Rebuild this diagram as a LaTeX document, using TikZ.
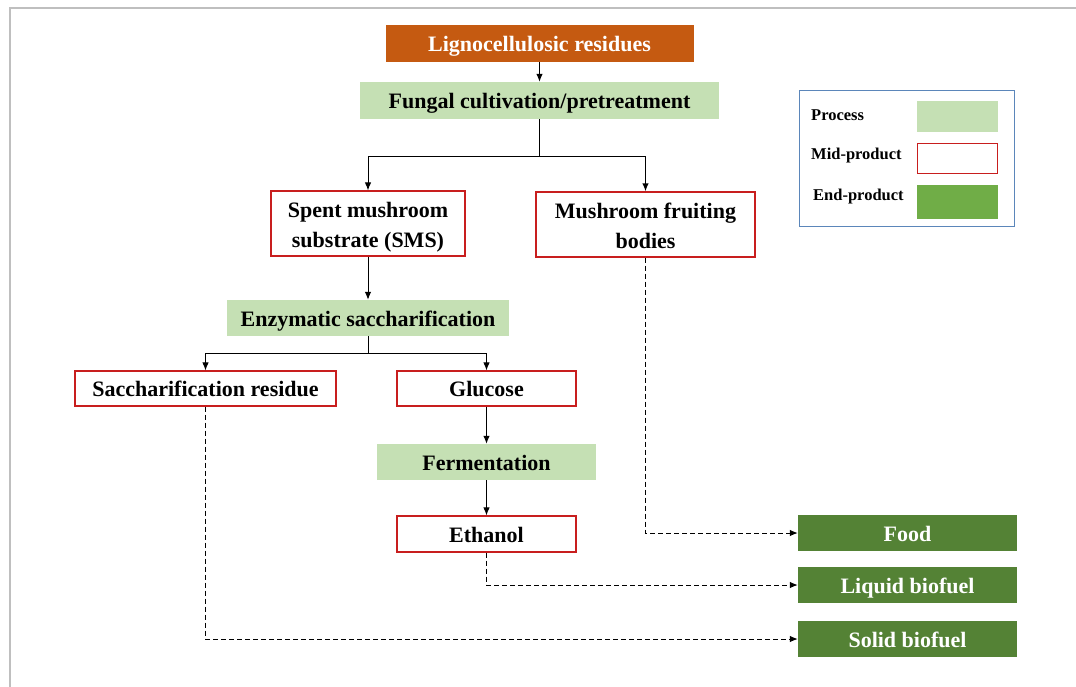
\documentclass[tikz,border=0pt]{standalone}
\usepackage{fontspec}
\setmainfont{Liberation Serif}
\usetikzlibrary{arrows.meta,positioning,calc}

\definecolor{rust}{HTML}{C55A11}
\definecolor{procgreen}{HTML}{C5E0B4}
\definecolor{endgreen}{HTML}{548235}
\definecolor{keygreen}{HTML}{70AD47}
\definecolor{midred}{HTML}{C81E1E}
\definecolor{legblue}{HTML}{5B86BA}
\definecolor{framegray}{HTML}{BFBFBF}

\begin{document}
\begin{tikzpicture}[
        x = 1pt, y = -1pt,
        font = \bfseries\fontsize{22}{30}\selectfont,
        oneline/.style = {text height=20pt, text depth=4pt},
        twoline/.style = {text height=50pt, text depth=3pt},
        topblock/.style = {rectangle, oneline, fill=rust, text=white, inner sep=0pt, minimum height=37pt},
        process/.style = {rectangle, oneline, fill=procgreen, inner sep=0pt, minimum height=36pt},
        midblock/.style = {rectangle, draw=midred, line width=1.2pt, fill=white, inner sep=0pt, align=center},
        endblock/.style = {rectangle, oneline, fill=endgreen, text=white, inner sep=0pt, minimum width=219pt, minimum height=36pt},
        keytext/.style = {anchor=west, inner sep=0pt, font=\bfseries\fontsize{16.5}{18}\selectfont},
        line/.style = {draw, line width=1pt, -{Latex[length=8pt,width=6.5pt]}},
        dline/.style = {draw, line width=1pt, dash pattern=on 5pt off 3pt, -{Latex[length=8pt,width=6.5pt]}}
    ]
        \useasboundingbox (0,0) rectangle (1076,686);
        \draw [framegray, line width=2pt] (1100,8) -- (9.5,8) -- (9.5,700);

        % Place nodes
        \node [topblock, minimum width=308pt] at (539.5,43.5) (ligno) {Lignocellulosic residues};
        \node [process, minimum width=359pt, minimum height=37pt] at (539.5,100.5) (fungal) {Fungal cultivation/pretreatment};
        \node [midblock, twoline, minimum width=194pt, minimum height=65pt] at (368,223.5) (sms) {Spent mushroom\\substrate (SMS)};
        \node [midblock, twoline, minimum width=219pt, minimum height=65pt] at (645.5,224.5) (fruit) {Mushroom fruiting\\bodies};
        \node [process, minimum width=282pt] at (368,318) (enzyme) {Enzymatic saccharification};
        \node [midblock, oneline, minimum width=261pt, minimum height=35pt] at (205.5,388.5) (residue) {Saccharification residue};
        \node [midblock, oneline, minimum width=179pt, minimum height=35pt] at (486.5,388.5) (glucose) {Glucose};
        \node [process, minimum width=219pt] at (486.5,462) (ferment) {Fermentation};
        \node [midblock, oneline, minimum width=179pt, minimum height=36pt] at (486.5,534) (ethanol) {Ethanol};

        \node [endblock] at (907.5,533) (food) {Food};
        \node [endblock] at (907.5,585) (liquid) {Liquid biofuel};
        \node [endblock] at (907.5,639) (solid) {Solid biofuel};

        % Legend
        \node [rectangle, draw=legblue, line width=1pt, minimum width=215pt, minimum height=136pt] at (906.5,158) (legend) {};
        \node [rectangle, fill=procgreen, minimum width=81pt, minimum height=31pt] at (957.5,116.5) (keyproc) {};
        \node [rectangle, draw=midred, line width=1pt, minimum width=80pt, minimum height=30pt] at (957,158) (keymid) {};
        \node [rectangle, fill=keygreen, minimum width=81pt, minimum height=34pt] at (957.5,202) (keyend) {};
        \node [keytext] at (811,115) (keyproctext) {Process};
        \node [keytext] at (811,156) (keymidtext) {Mid-product};
        \node [keytext] at (813,197) (keyendtext) {End-product};

        % Draw edges
        \draw [line] (ligno) -- (fungal);
        \draw [line width=1.4pt] (fungal.south) -- ++(0,37) coordinate (split1);
        \draw [line] (split1) -| (sms.north);
        \draw [line, line width=1.4pt] (split1) -| (fruit.north);
        \draw [line] (sms) -- (enzyme);
        \draw [line width=1pt] (enzyme.south) -- ++(0,17) coordinate (split2);
        \draw [line] (split2) -| (residue.north);
        \draw [line] (split2) -| (glucose.north);
        \draw [line] (glucose) -- (ferment);
        \draw [line] (ferment) -- (ethanol);
        \draw [dline] (fruit.south) |- (food.west);
        \draw [dline] (ethanol.south) |- (liquid.west);
        \draw [dline] (residue.south) |- (solid.west);

\end{tikzpicture}
\end{document}
